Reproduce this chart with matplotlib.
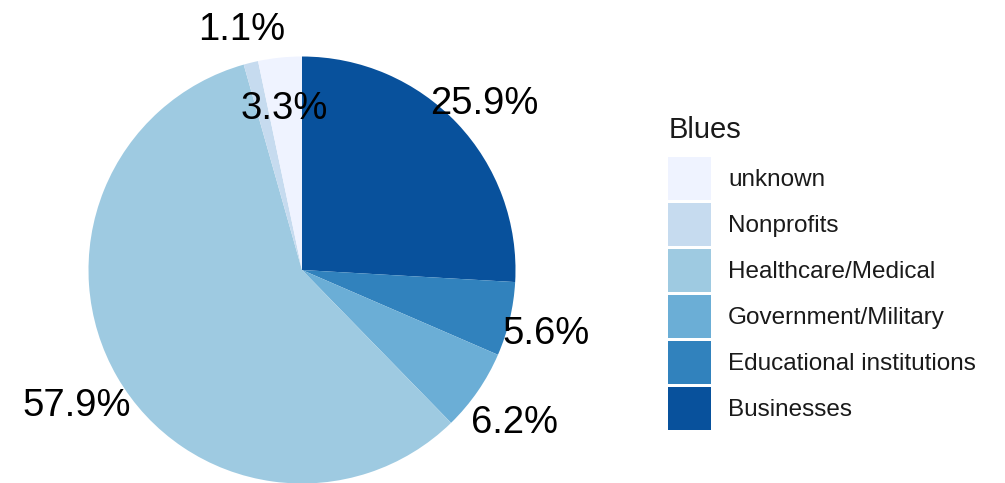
import matplotlib
matplotlib.use("Agg")
import matplotlib.pyplot as plt
from matplotlib.patches import Patch
import numpy as np

# sectors in pie order, clockwise from 12 o'clock
sectors = ["Businesses", "Educational institutions", "Government/Military",
           "Healthcare/Medical", "Nonprofits", "unknown"]
shares = [25.9, 5.6, 6.2, 57.9, 1.1, 3.3]
blues = ["#08519C", "#3182BD", "#6BAED6", "#9ECAE1", "#C6DBEF", "#EFF3FF"]

# distance of each percentage label from the centre, in pie radii
label_r = [1.176, 1.176, 1.21, 1.22, 1.185, 0.787]

plt.rcParams["font.family"] = ["Liberation Sans", "DejaVu Sans"]

fig = plt.figure(figsize=(10.05, 4.83), dpi=100)
ax = fig.add_axes([0, 0, 1, 1])
wedges, _ = ax.pie(shares, colors=blues, startangle=90, counterclock=False,
                   radius=1, wedgeprops=dict(linewidth=0))

# centre at (302, 270) px from the top-left corner, 213.5 px per radius
px = 213.5
ax.set_xlim(-302 / px, (1005 - 302) / px)
ax.set_ylim(-(483 - 270) / px, 270 / px)
ax.set_aspect("auto")
ax.axis("off")

for w, s, r in zip(wedges, shares, label_r):
    mid = np.deg2rad((w.theta1 + w.theta2) / 2)
    ax.annotate(f"{s}%", (r * np.cos(mid), r * np.sin(mid)),
                xytext=(0, -6), textcoords="offset pixels",
                ha="center", va="center", fontsize=27.5, color="black")

# legend: title drawn on its own, keys stacked below it
fig.text(669 / 1005, 1 - 130 / 483, "Blues", fontsize=21, color="#1a1a1a",
         ha="left", va="center")

fs = 17.5
key_pt = 43 * 72 / 100          # key size in points
hh = (key_pt / fs - 0.245) / 0.65
handles = [Patch(facecolor=c, edgecolor="none") for c in blues[::-1]]
leg = fig.legend(handles, sectors[::-1], loc="upper left",
                 bbox_to_anchor=(668 / 1005, 1 - 157 / 483), frameon=False,
                 fontsize=fs, handlelength=key_pt / fs, handleheight=hh,
                 labelspacing=3 * 0.72 / fs, handletextpad=17 * 0.72 / fs,
                 borderpad=0, borderaxespad=0)
for t in leg.get_texts():
    t.set_color("#1a1a1a")

fig.savefig("out.png", dpi=100)
